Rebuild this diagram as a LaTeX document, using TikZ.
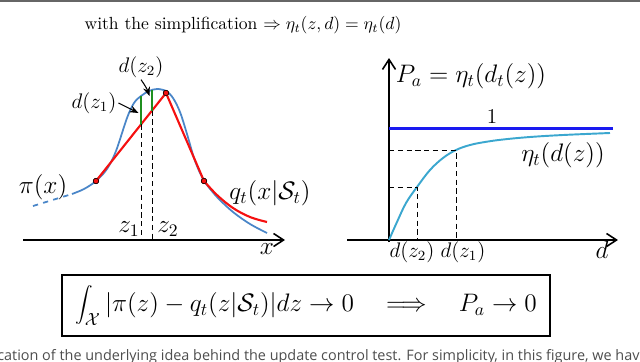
\documentclass[tikz,border=0pt]{standalone}
\usepackage{fontspec}
\newfontfamily\capfont{Open Sans}
\usetikzlibrary{arrows.meta,positioning,calc}
\definecolor{piblue}{HTML}{4A86C8}
\definecolor{qred}{HTML}{F51010}
\definecolor{gapgreen}{HTML}{1F8F1F}
\definecolor{etacyan}{HTML}{3BA7CF}
\definecolor{oneblue}{HTML}{1A1AF0}
\definecolor{capgray}{HTML}{4D4D4D}

\begin{document}
\begin{tikzpicture}[
  x=0.2mm,y=-0.2mm,
  axis/.style={line width=0.9pt,-{Straight Barb[length=2mm,width=2.6mm]}},
  picurve/.style={draw=piblue,line width=1pt},
  qline/.style={draw=qred,line width=1.2pt},
  gap/.style={draw=gapgreen,line width=1.1pt},
  guide/.style={densely dashed,line width=0.5pt},
  pointer/.style={line width=0.6pt,-{Stealth[length=1.8mm,width=1.4mm]}},
  dot/.style={circle,fill=qred,draw=black,line width=0.3pt,inner sep=0pt,minimum size=1.1mm},
  biglabel/.style={font=\Large,inner sep=1pt},
  smalllabel/.style={font=\large,inner sep=1pt}
]
\useasboundingbox (0,0) rectangle (640,361);
\fill[black!60] (0,0) rectangle (640,1.6);

\node (title) at (243,25) {with the simplification $\Rightarrow \eta_t(z,d)=\eta_t(d)$};

% left: target density and its piecewise approximation
\coordinate (lo) at (23,240);
\coordinate (lx) at (285,240);
\draw[axis] (lo) -- (lx);
\node[biglabel] (xlab) at (267,249) {$x$};

\draw[picurve,dashed] (33,206) -- (72,194);
\draw[picurve] plot[smooth,tension=0.55] coordinates {(72,194) (84,189) (96,181) (107,169) (116,151)
  (127,118) (134,103) (141,96) (149,91) (157,89) (166,91) (173,98) (180,112) (187,134)
  (194,158) (200,173) (204,181) (217,197) (233,212) (250,224) (267,233)};

\node[dot] (pa) at (96,181) {};
\node[dot] (pb) at (166,93) {};
\node[dot] (pc) at (204,181) {};
\draw[qline] (pa.center) -- (pb.center) -- (pc.center);
\draw[qline] plot[smooth,tension=0.6] coordinates {(204,181) (217,195) (233,208) (250,217) (267,222)};
\node[dot] at (pa) {};
\node[dot] at (pb) {};
\node[dot] at (pc) {};

\coordinate (g1b) at ($(pa.center)!0.643!(pb.center)$);
\coordinate (g2b) at ($(pa.center)!0.8!(pb.center)$);
\coordinate (g1t) at (141,95.5);
\coordinate (g2t) at (152,89.5);
\draw[gap] (g1b) -- (g1t |- g1b) -- (g1t);
\draw[gap] (g2t |- g2b) -- (g2t);
\draw[guide] (g1t |- g1b) -- (g1t |- lo);
\draw[guide] (g2t |- g2b) -- (g2t |- lo);

\node[biglabel] (z1) at (129,229) {$z_1$};
\node[biglabel] (z2) at (168,229) {$z_2$};
\node[smalllabel] (dz1) at (94,103) {$d(z_1)$};
\node[smalllabel] (dz2) at (141,67) {$d(z_2)$};
\draw[pointer] (dz1.east) -- (138.5,113);
\draw[pointer] (dz2.south) to[bend left=8] (149.5,96);

\node[biglabel] (pilab) at (43,187) {$\pi(x)$};
\node[biglabel] (qlab) at (270,193) {$q_t(x|\mathcal{S}_t)$};

% right: acceptance probability
\coordinate (ro) at (389,240);
\draw[axis] (347,240) -- (618,240);
\draw[axis] (389,242) -- (389,58);
\node[biglabel] (dlab) at (602,250) {$d$};
\node[biglabel] (palab) at (471,76) {$P_a=\eta_t(d_t(z))$};

\draw[oneblue,line width=1.4pt] (389,128.5) -- (613,128.5);
\node[smalllabel] (one) at (492,117) {$1$};

\draw[etacyan,line width=1.1pt] plot[smooth,tension=0.6] coordinates {(389,240) (397,222) (406,203) (417,187)
  (430,170) (443,158) (456,150) (470,145) (485,142) (503,139.5) (530,137) (563,135) (610,133)};

\coordinate (e1) at (456,150);
\coordinate (e2) at (417,187);
\draw[guide] (ro |- e1) -- (e1) -- (e1 |- ro);
\draw[guide] (ro |- e2) -- (e2) -- (e2 |- ro);
\node[smalllabel] (dz2r) at (412,252) {$d(z_2)$};
\node[smalllabel] (dz1r) at (463,252) {$d(z_1)$};
\node[biglabel] (etalab) at (563,155) {$\eta_t(d(z))$};

% conclusion
\node[draw,line width=0.9pt,minimum width=97.6mm,minimum height=12.2mm,font=\Large] (concl) at (306,305.5)
  {$\displaystyle\int_{\mathcal{X}} |\pi(z)-q_t(z|\mathcal{S}_t)|dz \rightarrow 0 \quad\Longrightarrow\quad P_a \rightarrow 0$};

\node[anchor=base west,inner sep=0pt,text=capgray,font=\capfont\fontsize{8.2}{10}\selectfont] (caption) at (-3,360)
  {cation of the underlying idea behind the update control test. For simplicity, in this figure, we have};
\end{tikzpicture}
\end{document}
